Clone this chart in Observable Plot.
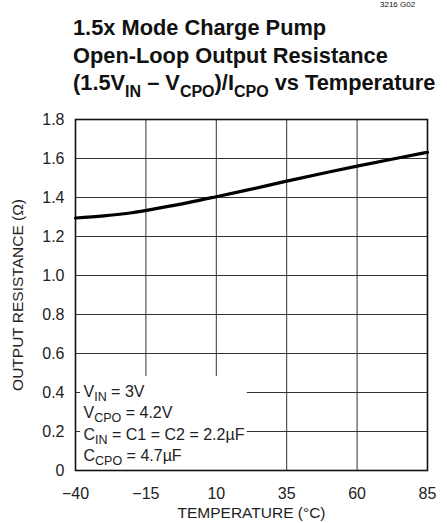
<!DOCTYPE html>
<html><head><meta charset="utf-8">
<script src="https://cdn.jsdelivr.net/npm/d3@7"></script>
<script src="https://cdn.jsdelivr.net/npm/@observablehq/plot@0.6"></script>
<style>
body{margin:0;background:#fff;}
#wrap{position:relative;width:447px;height:523px;overflow:hidden;font-family:"Liberation Sans",Arial,sans-serif;color:#111;}
.tl{position:absolute;left:73px;font-weight:bold;font-size:21.8px;white-space:nowrap;line-height:1;}
.tl sub{font-size:16px;vertical-align:baseline;position:relative;top:7px;line-height:0;}
#code{position:absolute;left:380px;top:0px;font-size:8px;}
#chart{position:absolute;left:0;top:100px;}
</style></head><body>
<div id="wrap">
<div id="code">3216 G02</div>
<div class="tl" style="top:17px">1.5x Mode Charge Pump</div>
<div class="tl" style="top:45px">Open-Loop Output Resistance</div>
<div class="tl" style="top:72px">(1.5V<sub>IN</sub> – V<sub>CPO</sub>)/I<sub>CPO</sub> vs Temperature</div>
<div id="chart"></div>
</div>
<script>
const temperature = [-40, -30, -20, -10, 0, 10, 20, 35, 50, 60, 75, 85];
const resistance = [1.295, 1.306, 1.322, 1.347, 1.374, 1.404, 1.435, 1.484, 1.531, 1.561, 1.604, 1.632];
const xTicks = [-40, -15, 10, 35, 60, 85];
const yTicks = [0, 0.2, 0.4, 0.6, 0.8, 1.0, 1.2, 1.4, 1.6, 1.8];
const conditions = ["V_{IN} = 3V", "V_{CPO} = 4.2V", "C_{IN} = C1 = C2 = 2.2µF", "C_{CPO} = 4.7µF"];
const xTitle = "TEMPERATURE (°C)";
const yTitle = "OUTPUT RESISTANCE (Ω)";

const data = temperature.map((t, i) => ({t, r: resistance[i]}));
const font = '"Liberation Sans",Arial,sans-serif';
const fmtX = d => d < 0 ? "\u2212" + Math.abs(d) : String(d);
const fmtY = d => d === 0 ? "0" : d.toFixed(1);

const chart = Plot.plot({
  width: 447, height: 423,
  marginTop: 19, marginBottom: 53, marginLeft: 75, marginRight: 20,
  style: {fontFamily: font, fontSize: "16px", color: "#222", background: "white", overflow: "visible"},
  x: {domain: [-40, 85]},
  y: {domain: [0, 1.8]},
  marks: [
    Plot.gridX(xTicks, {stroke: "#333", strokeOpacity: 1, strokeWidth: 1}),
    Plot.gridY(yTicks, {stroke: "#333", strokeOpacity: 1, strokeWidth: 1}),
    Plot.rect([0], {x1: -38.2, x2: 21, y1: 0, y2: 0.482, fill: "white"}),
    Plot.frame({stroke: "#111", strokeWidth: 1.6}),
    Plot.line(data, {x: "t", y: "r", curve: "monotone-x", stroke: "#000", strokeWidth: 3.2}),
    Plot.axisX(xTicks, {tickSize: 0, tickPadding: 17, tickFormat: fmtX, label: null, fill: "#222", fontSize: 16}),
    Plot.axisY(yTicks, {tickSize: 0, tickPadding: 11, tickFormat: fmtY, label: null, fill: "#222", fontSize: 16}),
    Plot.text(conditions, {x: -40, y: (d, i) => 0.405 - i * 0.11, dx: 8, textAnchor: "start", fill: "#222", fontSize: 16}),
    Plot.text([xTitle], {frameAnchor: "bottom", dy: 47, textAnchor: "middle", fill: "#222", fontSize: 15.5}),
    Plot.text([yTitle], {frameAnchor: "left", dx: -57, rotate: -90, textAnchor: "middle", fill: "#222", fontSize: 15.5})
  ]
});

chart.querySelectorAll("text").forEach(t => {
  const s = t.textContent;
  if (!s.includes("_{")) return;
  t.textContent = "";
  const parts = s.split(/(_\{[^}]*\})/).filter(p => p);
  let prevSub = false;
  for (const p of parts) {
    const ts = document.createElementNS("http://www.w3.org/2000/svg", "tspan");
    if (p.startsWith("_{")) {
      ts.textContent = p.slice(2, -1);
      ts.setAttribute("font-size", "12.5");
      ts.setAttribute("dy", "4");
      prevSub = true;
    } else {
      ts.textContent = p;
      if (prevSub) ts.setAttribute("dy", "-4");
      prevSub = false;
    }
    t.appendChild(ts);
  }
});

document.getElementById("chart").appendChild(chart);
</script>
</body></html>
